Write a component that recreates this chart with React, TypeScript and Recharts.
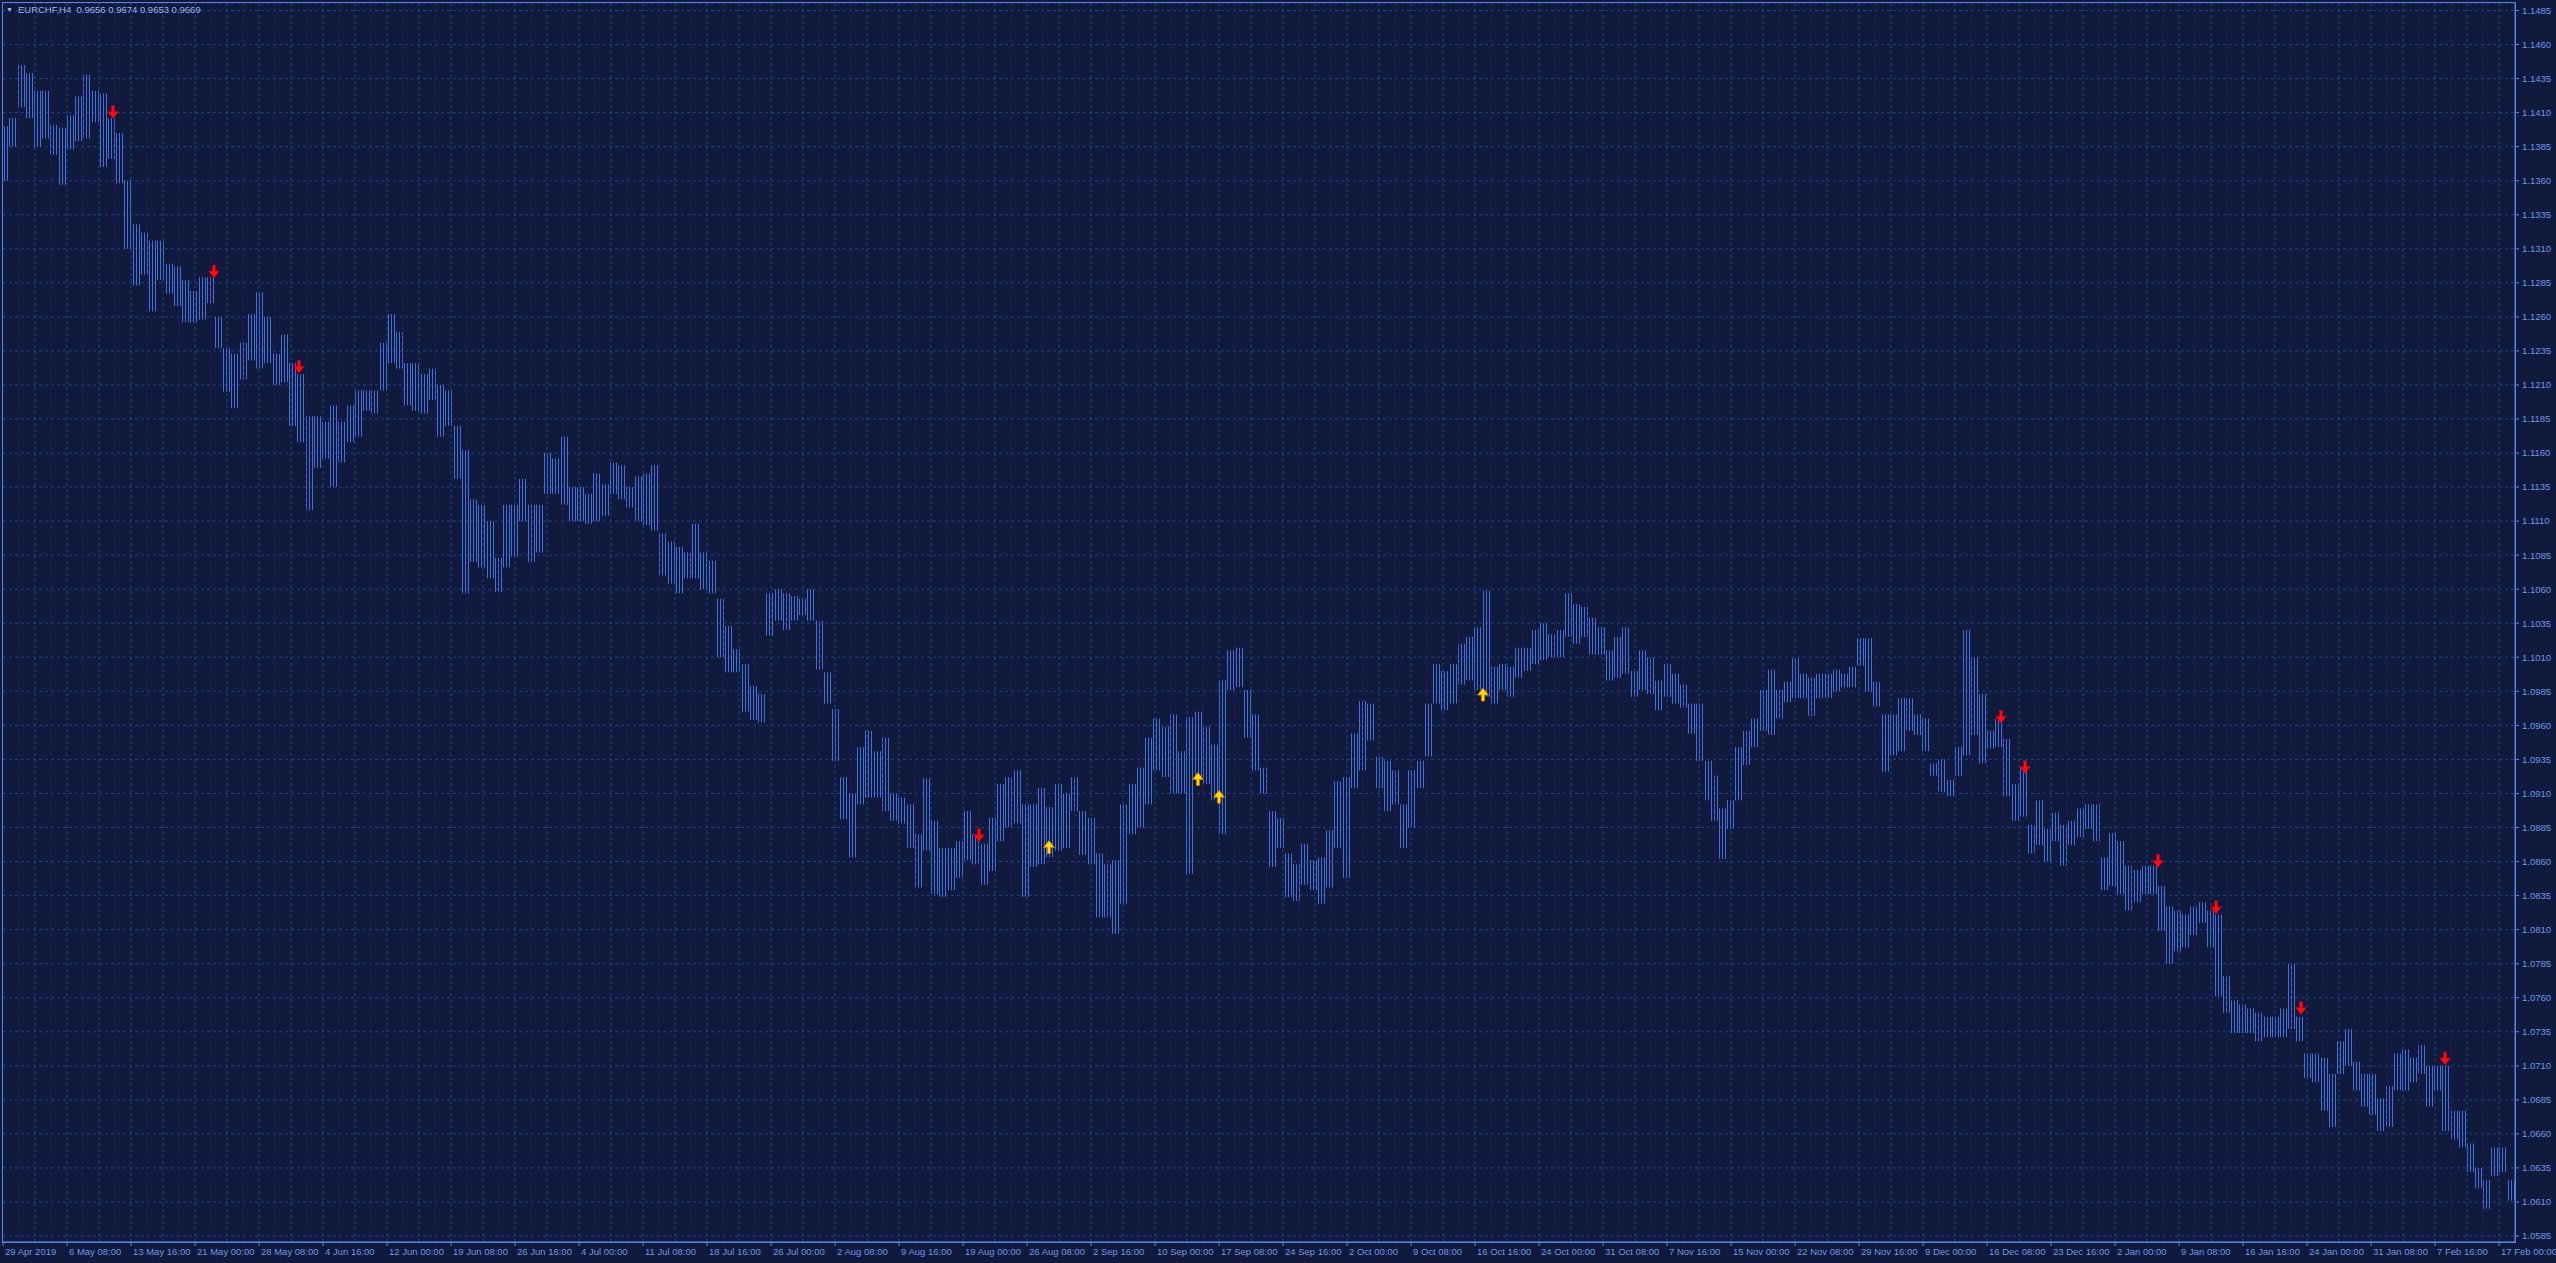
import React from 'react';
import { ComposedChart, Bar, Scatter, XAxis, YAxis, CartesianGrid, ReferenceLine } from 'recharts';

// ---------- DATA ----------
// Price ranges (high / low) of consecutive 4-bar H4 buckets.
const SEG1_HI = [1.1400,1.1406,1.1445,1.1439,1.1426,1.1426,1.1401,1.1399,1.1408,1.1422,1.1438,1.1426,1.1424,1.1406,1.1395,1.1360,1.1328,1.1322,1.1316,1.1316,1.1299,1.1297,1.1287,1.1279,1.1289,1.1289,1.1260,1.1237,1.1233,1.1241,1.1262,1.1278,1.1260,1.1233,1.1247,1.1226,1.1218,1.1187,1.1187,1.1183,1.1195,1.1183,1.1195,1.1206,1.1206,1.1206,1.1241,1.1262,1.1249,1.1226,1.1226,1.1218,1.1222,1.1210,1.1206,1.1180,1.1162,1.1126,1.1122,1.1110,1.1083,1.1122,1.1122,1.1141,1.1122,1.1122,1.1160,1.1156,1.1172,1.1135,1.1135,1.1130,1.1145,1.1137,1.1153,1.1151,1.1135,1.1143,1.1145,1.1151,1.1101,1.1095,1.1091,1.1087,1.1108,1.1087,1.1081,1.1053,1.1033,1.1016,1.1005,1.0989,1.0983,1.1057,1.1060,1.1057,1.1055,1.1053,1.1060,1.1037,1.0999,1.0972,1.0922,1.0910];
const SEG1_LO = [1.1360,1.1385,1.1414,1.1406,1.1385,1.1391,1.1379,1.1357,1.1383,1.1389,1.1391,1.1403,1.1370,1.1376,1.1358,1.1310,1.1283,1.1291,1.1264,1.1287,1.1277,1.1268,1.1256,1.1256,1.1258,1.1270,1.1237,1.1205,1.1193,1.1214,1.1228,1.1222,1.1226,1.1210,1.1212,1.1180,1.1168,1.1118,1.1149,1.1156,1.1135,1.1153,1.1168,1.1172,1.1191,1.1189,1.1206,1.1226,1.1222,1.1195,1.1191,1.1189,1.1199,1.1172,1.1180,1.1141,1.1057,1.1080,1.1076,1.1068,1.1058,1.1076,1.1084,1.1110,1.1080,1.1087,1.1130,1.1130,1.1122,1.1110,1.1110,1.1108,1.1110,1.1114,1.1130,1.1126,1.1120,1.1110,1.1107,1.1103,1.1070,1.1064,1.1057,1.1068,1.1068,1.1060,1.1057,1.1010,1.0999,1.0999,1.0970,1.0964,1.0962,1.1026,1.1037,1.1030,1.1037,1.1041,1.1037,1.1001,1.0976,1.0934,1.0891,1.0863];

const SEG2_HI = [1.0944,1.0956,1.0941,1.0951,1.0910,1.0907,1.0902,1.0880,1.0921,1.0890,1.0870,1.0870,1.0875,1.0897,1.0880,1.0873,1.0892,1.0917,1.0922,1.0927,1.0902,1.0902,1.0914,1.0900,1.0917,1.0910,1.0922,1.0897,1.0892,1.0866,1.0858,1.0861,1.0902,1.0917,1.0929,1.0951,1.0965,1.0959,1.0968,1.0941,1.0966,1.0970,1.0959,1.0946,1.0993,1.1015,1.1017,1.0986,1.0968,1.0929,1.0897,1.0892,1.0866,1.0858,1.0873,1.0861,1.0863,1.0883,1.0919,1.0922,1.0954,1.0978,1.0976,1.0937,1.0934,1.0927,1.0902,1.0927,1.0934,1.0976,1.1005,1.1000,1.1005,1.1020,1.1025,1.1032,1.1059,1.1003,1.1005,1.1003,1.1017,1.1017,1.1030,1.1035,1.1027,1.1030,1.1057,1.1049,1.1047,1.1039,1.1032,1.1015,1.1025,1.1032,1.1000,1.1015,1.1010,1.0993,1.1005,1.0998,1.0990,1.0976,1.0976,1.0934];
const SEG2_LO = [1.0902,1.0907,1.0907,1.0897,1.0890,1.0888,1.0870,1.0841,1.0868,1.0836,1.0834,1.0839,1.0848,1.0861,1.0858,1.0843,1.0853,1.0875,1.0885,1.0888,1.0834,1.0856,1.0858,1.0863,1.0868,1.0870,1.0897,1.0865,1.0858,1.0819,1.0819,1.0807,1.0829,1.0880,1.0885,1.0902,1.0927,1.0922,1.0910,1.0910,1.0851,1.0922,1.0917,1.0905,1.0880,1.0986,1.0988,1.0951,1.0927,1.0910,1.0856,1.0870,1.0834,1.0831,1.0843,1.0839,1.0829,1.0841,1.0870,1.0848,1.0914,1.0927,1.0949,1.0914,1.0897,1.0902,1.0870,1.0885,1.0914,1.0937,1.0976,1.0971,1.0976,1.0990,1.0993,1.0986,1.0981,1.0976,1.0986,1.0981,1.0995,1.1000,1.1005,1.1008,1.1010,1.1010,1.1025,1.1020,1.1025,1.1012,1.1012,1.0993,1.0995,1.0998,1.0981,1.0986,1.0983,1.0971,1.0981,1.0976,1.0973,1.0954,1.0934,1.0905];

const SEG3_HI = [1.0923,1.0899,1.0905,1.0944,1.0956,1.0965,1.0986,1.1001,1.0986,1.0992,1.1009,1.0998,1.0995,1.0998,1.0998,1.1001,1.0998,1.1003,1.1024,1.1024,1.0992,1.0968,1.0968,1.0980,1.0980,1.0968,1.0965,1.0932,1.0935,1.0920,1.0944,1.1030,1.1010,1.0983,1.0956,1.0965,1.0950,1.0917,1.0929,1.0887,1.0905,1.0884,1.0896,1.0887,1.0890,1.0899,1.0902,1.0902,1.0863,1.0881,1.0875,1.0857,1.0854,1.0857,1.0857,1.0842,1.0827,1.0824,1.0821,1.0827,1.0830,1.0824,1.0821,1.0776,1.0758,1.0755,1.0752,1.0749,1.0746,1.0746,1.0752,1.0785,1.0746,1.0719,1.0719,1.0716,1.0704,1.0728,1.0737,1.0713,1.0704,1.0704,1.0686,1.0695,1.0719,1.0722,1.0716,1.0725,1.0710,1.0710,1.0710,1.0677,1.0677,1.0653,1.0635,1.0626,1.0650,1.0650,1.0626];
const SEG3_LO = [1.0890,1.0862,1.0884,1.0905,1.0931,1.0944,1.0956,1.0953,1.0965,1.0977,1.0980,1.0980,1.0967,1.0980,1.0980,1.0985,1.0988,1.0988,1.1004,1.0985,1.0974,1.0926,1.0938,1.0941,1.0956,1.0953,1.0941,1.0923,1.0911,1.0908,1.0923,1.0938,1.0953,1.0932,1.0943,1.0944,1.0908,1.0890,1.0893,1.0866,1.0872,1.0860,1.0875,1.0857,1.0872,1.0878,1.0884,1.0875,1.0839,1.0842,1.0836,1.0824,1.0830,1.0836,1.0836,1.0809,1.0785,1.0794,1.0797,1.0806,1.0815,1.0797,1.0761,1.0749,1.0734,1.0734,1.0734,1.0728,1.0731,1.0731,1.0731,1.0737,1.0728,1.0701,1.0698,1.0677,1.0665,1.0704,1.0710,1.0692,1.0680,1.0674,1.0662,1.0665,1.0692,1.0692,1.0698,1.0704,1.0680,1.0692,1.0662,1.0656,1.0650,1.0632,1.0620,1.0605,1.0629,1.0632,1.0611];

// bar number (H4 bar count since 29 Apr 2019) of each segment's first bucket, and bars per bucket
const SEG_START_BAR = [0.55, 428.6, 855.4];
const SEG_BARS_PER_BUCKET = [4.114, 4.114, 4.065];

// arrow signals
const SELL_BAR = [55, 105.5, 148, 488, 999, 1011, 1077.5, 1106.5, 1149, 1221];
const SELL_PRICE = [1.1410, 1.1293, 1.1223, 1.0879, 1.0966, 1.0929, 1.0860, 1.0826, 1.0752, 1.0715];
const BUY_BAR = [523, 597.5, 608, 740];
const BUY_PRICE = [1.0871, 1.0921, 1.0908, 1.0983];

const X_LABELS = ['29 Apr 2019','6 May 08:00','13 May 16:00','21 May 00:00','28 May 08:00','4 Jun 16:00','12 Jun 00:00','19 Jun 08:00','26 Jun 16:00','4 Jul 00:00','11 Jul 08:00','18 Jul 16:00','26 Jul 00:00','2 Aug 08:00','9 Aug 16:00','19 Aug 00:00','26 Aug 08:00','2 Sep 16:00','10 Sep 00:00','17 Sep 08:00','24 Sep 16:00','2 Oct 00:00','9 Oct 08:00','16 Oct 16:00','24 Oct 00:00','31 Oct 08:00','7 Nov 16:00','15 Nov 00:00','22 Nov 08:00','29 Nov 16:00','9 Dec 00:00','16 Dec 08:00','23 Dec 16:00','2 Jan 00:00','9 Jan 08:00','16 Jan 16:00','24 Jan 00:00','31 Jan 08:00','7 Feb 16:00','17 Feb 00:00'];
const BARS_PER_LABEL = 32;

const Y_TICKS = [1.0585,1.0610,1.0635,1.0660,1.0685,1.0710,1.0735,1.0760,1.0785,1.0810,1.0835,1.0860,1.0885,1.0910,1.0935,1.0960,1.0985,1.1010,1.1035,1.1060,1.1085,1.1110,1.1135,1.1160,1.1185,1.1210,1.1235,1.1260,1.1285,1.1310,1.1335,1.1360,1.1385,1.1410,1.1435,1.1460,1.1485];

const HEADER = 'EURCHF,H4  0.9656 0.9674 0.9653 0.9669';

// ---------- STYLE ----------
const W = 2556;
const H = 1263;
const BG = '#0f1a3c';
const BAR_COLOR = '#4470d8';
const GRID_BLUE = '#22408a';
const GRID_PURPLE = '#3a1478';
const AXIS_COLOR = '#5b84e4';
const TEXT_COLOR = '#7098ea';
const X_DOMAIN: [number, number] = [0, 1256];
const Y_DOMAIN: [number, number] = [1.05806, 1.14905];
const FONT = '"Liberation Sans", Arial, sans-serif';
const STRIPE_OFFSETS = [-3, 0, 3];

// ---------- BUILD ----------
const segs = [
  [SEG1_HI, SEG1_LO],
  [SEG2_HI, SEG2_LO],
  [SEG3_HI, SEG3_LO],
];
const rows = segs.flatMap(([hi, lo], s) =>
  hi.map((h, i) => ({ bar: SEG_START_BAR[s] + i * SEG_BARS_PER_BUCKET[s], hi: h, lo: lo[i] }))
);
const sells = SELL_BAR.map((b, i) => ({ bar: b, price: SELL_PRICE[i] }));
const buys = BUY_BAR.map((b, i) => ({ bar: b, price: BUY_PRICE[i] }));
const xTicks = X_LABELS.map((_, i) => i * BARS_PER_LABEL);

const gridBlue: number[] = [];
const gridPurple: number[] = [];
for (let b = 16; b < X_DOMAIN[1]; b += 16) gridBlue.push(b);
for (let b = 8; b < X_DOMAIN[1]; b += 16) gridPurple.push(b);

const Stripes = (props: any) => {
  const { x, y, width, height } = props;
  if (x == null || y == null || height == null) return null;
  const top = Math.min(y, y + height);
  const h = Math.max(1, Math.abs(height));
  const cx = x + (width || 0) / 2;
  return (
    <g>
      {STRIPE_OFFSETS.map((o, k) => {
        const lx = Math.round(cx + o) + 0.5;
        return <line key={k} x1={lx} x2={lx} y1={top} y2={top + h} stroke={BAR_COLOR} strokeWidth={1} />;
      })}
    </g>
  );
};

const DownArrow = (props: any) => {
  const { cx, cy } = props;
  if (cx == null || cy == null) return null;
  const d = `M${cx - 1.6},${cy - 7} L${cx + 1.6},${cy - 7} L${cx + 1.6},${cy - 1} L${cx + 5.5},${cy - 1} L${cx},${cy + 6} L${cx - 5.5},${cy - 1} L${cx - 1.6},${cy - 1} Z`;
  return <path d={d} fill="#ff0a10" stroke="#b00010" strokeWidth={0.6} />;
};

const UpArrow = (props: any) => {
  const { cx, cy } = props;
  if (cx == null || cy == null) return null;
  const d = `M${cx - 1.6},${cy + 7} L${cx + 1.6},${cy + 7} L${cx + 1.6},${cy + 1} L${cx + 5.5},${cy + 1} L${cx},${cy - 6} L${cx - 5.5},${cy + 1} L${cx - 1.6},${cy + 1} Z`;
  return <path d={d} fill="#ffdc00" stroke="#d07000" strokeWidth={0.9} />;
};

const XTick = (props: any) => {
  const { x, y, payload } = props;
  const idx = Math.round(payload.value / BARS_PER_LABEL);
  return (
    <text x={x + 2} y={y} dy={9} textAnchor="start" fill={TEXT_COLOR} fontSize={9.5} fontFamily={FONT}>
      {X_LABELS[idx]}
    </text>
  );
};

export default function App() {
  return (
    <div style={{ position: 'absolute', left: 0, top: 0, width: W, height: H, background: BG, overflow: 'hidden' }}>
      <ComposedChart
        width={W}
        height={H}
        data={rows}
        margin={{ top: 3, right: 0, bottom: 0, left: 3 }}
        barGap={0}
      >
        <CartesianGrid vertical={false} stroke={GRID_BLUE} strokeDasharray="3 3" />
        {gridPurple.map((b) => (
          <ReferenceLine key={'p' + b} x={b} stroke={GRID_PURPLE} strokeDasharray="3 3" />
        ))}
        {gridBlue.map((b) => (
          <ReferenceLine key={'b' + b} x={b} stroke={GRID_BLUE} strokeDasharray="3 3" />
        ))}
        <XAxis
          dataKey="bar"
          type="number"
          domain={X_DOMAIN}
          allowDataOverflow
          ticks={xTicks}
          interval={0}
          tick={<XTick />}
          tickSize={4}
          tickMargin={0}
          height={21}
          stroke={AXIS_COLOR}
          tickLine={{ stroke: AXIS_COLOR }}
          axisLine={{ stroke: AXIS_COLOR }}
        />
        <YAxis
          orientation="right"
          type="number"
          domain={Y_DOMAIN}
          allowDataOverflow
          ticks={Y_TICKS}
          interval={0}
          width={41}
          tickSize={4}
          tickMargin={3}
          tickFormatter={(v: number) => v.toFixed(4)}
          tick={{ fill: TEXT_COLOR, fontSize: 9.5, fontFamily: FONT }}
          tickLine={{ stroke: AXIS_COLOR }}
          axisLine={{ stroke: AXIS_COLOR }}
        />
        <Bar
          dataKey={(d: any) => [d.lo, d.hi]}
          barSize={8}
          shape={<Stripes />}
          isAnimationActive={false}
        />
        <Scatter data={sells} dataKey="price" shape={<DownArrow />} isAnimationActive={false} />
        <Scatter data={buys} dataKey="price" shape={<UpArrow />} isAnimationActive={false} />
      </ComposedChart>
      <div
        style={{
          position: 'absolute',
          left: 2,
          top: 2,
          width: 2514,
          height: 1241,
          boxSizing: 'border-box',
          border: `1px solid ${AXIS_COLOR}`,
          pointerEvents: 'none',
        }}
      />
      <div
        style={{
          position: 'absolute',
          left: 6,
          top: 3,
          fontFamily: FONT,
          fontSize: 9.5,
          color: '#9fb6e8',
          whiteSpace: 'pre',
          lineHeight: '14px',
        }}
      >
        <span style={{ fontSize: 7, marginRight: 5, position: 'relative', top: -1 }}>▼</span>
        {HEADER}
      </div>
    </div>
  );
}
